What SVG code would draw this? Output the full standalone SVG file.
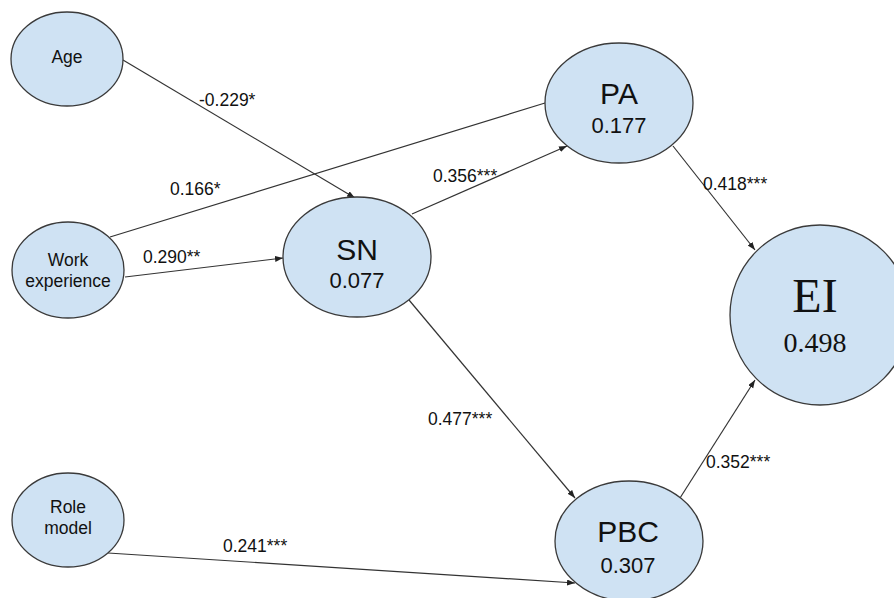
<svg xmlns="http://www.w3.org/2000/svg" width="894" height="598" viewBox="0 0 894 598">
<style>
.node{fill:#cfe2f3;stroke:#3a3a3a;stroke-width:1.3}
.sm{font-family:"Liberation Sans",Arial,sans-serif;font-size:17.5px;fill:#111;text-anchor:middle}
.big{font-family:"Liberation Sans",Arial,sans-serif;font-size:30px;fill:#111;text-anchor:middle}
.val{font-family:"Liberation Sans",Arial,sans-serif;font-size:22px;fill:#111;text-anchor:middle}
.ser{font-family:"Liberation Serif","Times New Roman",serif;fill:#111;text-anchor:middle}
.lbl{font-family:"Liberation Sans",Arial,sans-serif;font-size:17.5px;fill:#111}
.edge{stroke:#333;stroke-width:1.2;fill:none}
</style>
<defs>
<marker id="arr" markerUnits="userSpaceOnUse" markerWidth="9" markerHeight="7" refX="8" refY="3" orient="auto">
<path d="M0,0 L8,3 L0,6 z" fill="#222"/>
</marker>
</defs>
<rect width="894" height="598" fill="#fff"/>
<g id="connectors">
<line class="edge" x1="123" y1="60" x2="355" y2="198" marker-end="url(#arr)"/>
<line class="edge" x1="110" y1="237" x2="545" y2="103"/>
<line class="edge" x1="125" y1="277" x2="283" y2="258" marker-end="url(#arr)"/>
<line class="edge" x1="412" y1="214" x2="567" y2="146" marker-end="url(#arr)"/>
<line class="edge" x1="409" y1="300" x2="575" y2="498" marker-end="url(#arr)"/>
<line class="edge" x1="673" y1="146" x2="755" y2="250" marker-end="url(#arr)"/>
<line class="edge" x1="680" y1="498" x2="755" y2="380" marker-end="url(#arr)"/>
<line class="edge" x1="108" y1="553" x2="575" y2="583" marker-end="url(#arr)"/>
<text class="lbl" x="199" y="106">-0.229*</text>
<text class="lbl" x="170" y="195">0.166*</text>
<text class="lbl" x="143" y="263">0.290**</text>
<text class="lbl" x="433" y="182">0.356***</text>
<text class="lbl" x="703" y="190">0.418***</text>
<text class="lbl" x="428" y="425">0.477***</text>
<text class="lbl" x="706" y="468">0.352***</text>
<text class="lbl" x="223" y="552">0.241***</text>
</g>
<g id="age">
<ellipse class="node" cx="67" cy="59" rx="56" ry="47"/>
<text class="sm" x="67" y="63">Age</text>
</g>
<g id="work">
<ellipse class="node" cx="68" cy="270" rx="56" ry="48"/>
<text class="sm" x="68" y="266">Work</text>
<text class="sm" x="68" y="287">experience</text>
</g>
<g id="role">
<ellipse class="node" cx="68" cy="520" rx="56" ry="47"/>
<text class="sm" x="68" y="513">Role</text>
<text class="sm" x="68" y="534">model</text>
</g>
<g id="sn">
<ellipse class="node" cx="357" cy="257" rx="74" ry="60"/>
<text class="big" x="357" y="260">SN</text>
<text class="val" x="357" y="288">0.077</text>
</g>
<g id="pa">
<ellipse class="node" cx="619" cy="103" rx="74" ry="60"/>
<text class="big" x="619" y="104">PA</text>
<text class="val" x="619" y="133">0.177</text>
</g>
<g id="pbc">
<ellipse class="node" cx="629" cy="541" rx="74" ry="60"/>
<text class="big" x="628" y="542">PBC</text>
<text class="val" x="628" y="573">0.307</text>
</g>
<g id="ei">
<ellipse class="node" cx="820" cy="315" rx="90" ry="90"/>
<text class="ser" x="815" y="312" font-size="48">EI</text>
<text class="ser" x="815" y="352" font-size="28">0.498</text>
</g>
</svg>
